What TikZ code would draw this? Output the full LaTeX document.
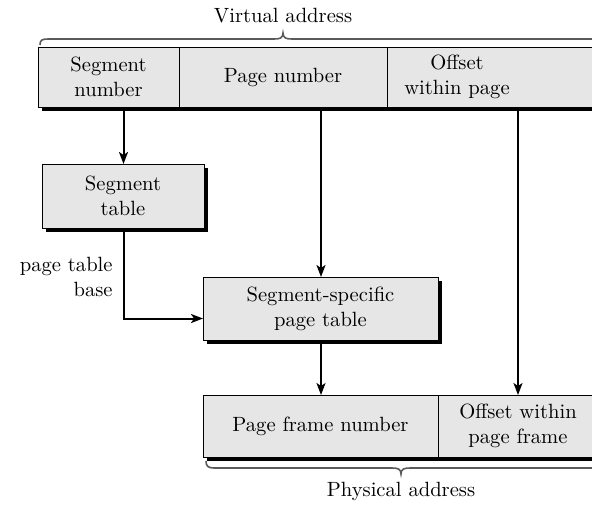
\documentclass[tikz,border=0pt]{standalone}
\usetikzlibrary{shadows,arrows.meta}
\definecolor{boxfill}{HTML}{E6E6E6}
\definecolor{bracegray}{HTML}{5A5A5A}
\tikzset{
 cell/.style={draw=black, line width=0.5pt, fill=boxfill, inner sep=0pt, anchor=north west,
   drop shadow={shadow xshift=1.5pt, shadow yshift=-1.5pt, fill=black, opacity=1}},
 lbl/.style={align=center, font=\fontsize{10.3}{12.5}\selectfont, text=black, inner sep=1pt},
 arr/.style={line width=1pt, -{Stealth[length=6pt,width=4.5pt,inset=1.5pt]}},
 brc/.style={draw=bracegray, line width=0.8pt}
}
\begin{document}
\begin{tikzpicture}[x=0.5pt,y=-0.5pt]
\useasboundingbox (0,0) rectangle (592,505);
% virtual address row
\node[cell, minimum width=70.5pt, minimum height=30pt] (vaseg) at (38,47) {};
\node[cell, minimum width=104pt, minimum height=30pt] (vapage) at (179,47) {};
\node[cell, minimum width=106.5pt, minimum height=30pt] (vaoff) at (387,47) {};
\node[lbl] (tseg) at (108.5,77) {Segment\\number};
\node[lbl] (tpage) at (283,77) {Page number};
\node[lbl] (toffva) at (457,77) {Offset\\within page};
% segment table
\node[cell, minimum width=81pt, minimum height=32pt] (segtab) at (42,164) {};
\node[lbl] (tsegtab) at (123,196) {Segment\\table};
% segment-specific page table
\node[cell, minimum width=117.5pt, minimum height=31.5pt] (segspec) at (203,277) {};
\node[lbl] (tsegspec) at (320.5,308.5) {Segment-specific\\page table};
% physical address row
\node[cell, minimum width=117.5pt, minimum height=31pt] (pfn) at (203,395) {};
\node[cell, minimum width=81pt, minimum height=31pt] (paoff) at (438,395) {};
\node[lbl] (tpfn) at (320.5,426) {Page frame number};
\node[lbl] (toffpa) at (518,426) {Offset within\\page frame};
% labels
\node[lbl] (va) at (283,16) {Virtual address};
\node[lbl] (pa) at (401,491) {Physical address};
\node[lbl, align=right, anchor=east] (ptb) at (115,277) {page table\\base};
% braces
\draw[brc] (40,45) .. controls (40,40) and (42,39) .. (48,39) -- (274,39)
  .. controls (280,39) and (283,38) .. (283,33)
  .. controls (283,38) and (286,39) .. (292,39) -- (600,39);
\draw[brc] (206,461) .. controls (206,466) and (208,468) .. (214,468) -- (392,468)
  .. controls (398,468) and (401,469) .. (401,474)
  .. controls (401,469) and (404,468) .. (410,468) -- (600,468);
% connectors
\draw[arr] (segtab.north |- vaseg.south) -- (segtab.north);
\draw[arr] (segspec.north |- vapage.south) -- (segspec.north);
\draw[arr] (toffpa.north |- vaoff.south) -- (toffpa.north |- paoff.north);
\draw[arr] (segspec.south) -- (pfn.north);
\draw[arr] (segtab.south) |- ([yshift=-4.75pt]segspec.west);
\end{tikzpicture}
\end{document}
